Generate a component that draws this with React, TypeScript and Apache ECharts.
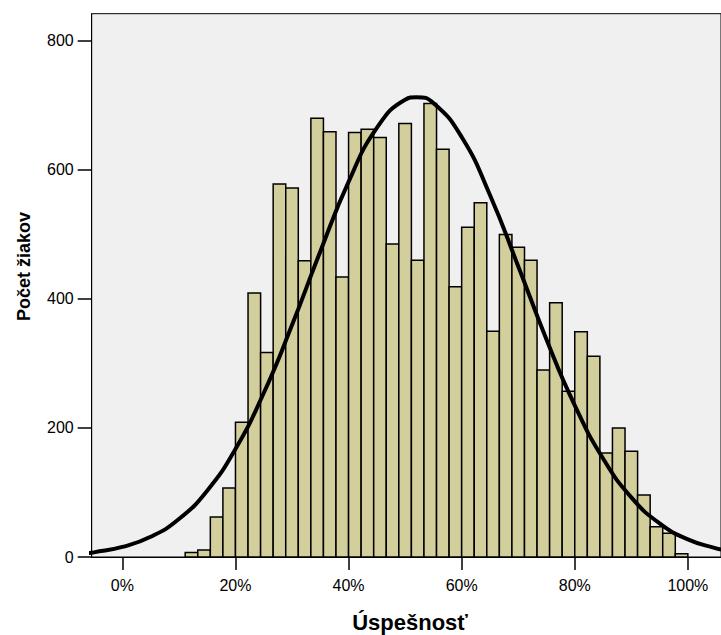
import React, { useEffect, useRef } from "react";
import * as echarts from "echarts";

// Histogram: 45 score bins per 100 %, bars from bin 5 to bin 44
const BINS_PER_100 = 45;
const FIRST_BIN = 5;
const COUNTS = [
  7, 11, 62, 107, 209, 409, 317, 578, 572, 459,
  680, 659, 434, 658, 663, 650, 485, 672, 460, 703,
  632, 419, 511, 549, 350, 500, 480, 460, 290, 394,
  257, 349, 311, 161, 200, 164, 96, 47, 37, 5,
];

// Normal curve (x in %, y = count)
const CURVE_X = [-6, -5, 0, 5, 10, 15, 20, 25, 30, 35, 40, 45, 50, 52, 55, 60, 65, 70, 75, 80, 85, 90, 95, 100, 105, 106];
const CURVE_Y = [6.1, 7.2, 15.6, 31.3, 58.8, 102.8, 167.4, 254.1, 359.4, 473.5, 581.3, 665.0, 708.7, 712.7, 703.7, 651.0, 561.1, 450.6, 337.2, 235.1, 152.7, 92.4, 52.1, 27.4, 13.4, 11.5];

const X_TICKS = [0, 20, 40, 60, 80, 100];
const Y_TICKS = [0, 200, 400, 600, 800];

const X_TITLE = "Úspešnosť";
const Y_TITLE = "Počet žiakov";

const FONT = '"Liberation Sans", Arial, Helvetica, sans-serif';

export default function App() {
  const ref = useRef<HTMLDivElement>(null);

  useEffect(() => {
    if (!ref.current) return;
    const chart = echarts.init(ref.current, undefined, { renderer: "svg" });

    const barData = COUNTS.map((c, i) => [
      ((FIRST_BIN + i) * 100) / BINS_PER_100,
      ((FIRST_BIN + i + 1) * 100) / BINS_PER_100,
      c,
    ]);
    const curveData = CURVE_X.map((x, i) => [x, CURVE_Y[i]]);

    const gridLeft = 91.7;
    const gridWidth = 636;
    const pxPerPct = 5.715;
    const xMin = (gridLeft - 122.7) / pxPerPct;
    const xMax = xMin + gridWidth / pxPerPct;

    chart.setOption({
      animation: false,
      backgroundColor: "#ffffff",
      textStyle: { fontFamily: FONT },
      grid: {
        left: gridLeft,
        top: 13.7,
        width: gridWidth,
        height: 557 - 13.7,
        show: true,
        backgroundColor: "#f0f0f0",
        borderColor: "#000000",
        borderWidth: 1,
        containLabel: false,
      },
      xAxis: {
        type: "value",
        min: xMin,
        max: xMax,
        splitLine: { show: false },
        axisLine: { show: true, onZero: false, lineStyle: { color: "#000", width: 1 } },
        axisTick: {
          show: true,
          length: 13,
          customValues: X_TICKS,
          lineStyle: { color: "#000", width: 1.5 },
        },
        axisLabel: {
          customValues: X_TICKS,
          formatter: (v: number) => `${Math.round(v)}%`,
          color: "#000",
          fontSize: 16,
          fontFamily: FONT,
          margin: 20,
        },
      },
      yAxis: {
        type: "value",
        min: 0,
        max: 842,
        splitLine: { show: false },
        axisLine: { show: true, onZero: false, lineStyle: { color: "#000", width: 1 } },
        axisTick: {
          show: true,
          length: 14,
          customValues: Y_TICKS,
          lineStyle: { color: "#000", width: 1.5 },
        },
        axisLabel: {
          customValues: Y_TICKS,
          color: "#000",
          fontSize: 16,
          fontFamily: FONT,
          margin: 18,
        },
      },
      graphic: [
        {
          type: "text",
          x: 410,
          y: 622,
          style: {
            text: X_TITLE,
            fontSize: 22,
            fontWeight: "bold",
            fontFamily: FONT,
            fill: "#000",
            align: "center",
            verticalAlign: "middle",
          },
        },
        {
          type: "text",
          x: 24,
          y: 266.5,
          rotation: Math.PI / 2,
          style: {
            text: Y_TITLE,
            fontSize: 18,
            fontWeight: "bold",
            fontFamily: FONT,
            fill: "#000",
            align: "center",
            verticalAlign: "middle",
          },
        },
      ],
      series: [
        {
          type: "custom",
          data: barData,
          encode: { x: [0, 1], y: 2 },
          clip: true,
          z: 2,
          renderItem: (params: any, api: any) => {
            const x0 = api.value(0);
            const x1 = api.value(1);
            const c = api.value(2);
            const p0 = api.coord([x0, c]);
            const p1 = api.coord([x1, 0]);
            return {
              type: "rect",
              shape: {
                x: p0[0],
                y: p0[1],
                width: p1[0] - p0[0],
                height: p1[1] - p0[1],
              },
              style: { fill: "#d3cf9c", stroke: "#000000", lineWidth: 1.5 },
            };
          },
        },
        {
          type: "line",
          data: curveData,
          smooth: true,
          symbol: "none",
          clip: true,
          z: 3,
          lineStyle: { color: "#000000", width: 4 },
        },
      ],
    });

    return () => chart.dispose();
  }, []);

  return (
    <div
      ref={ref}
      style={{ position: "absolute", left: 0, top: 0, width: 721, height: 635 }}
    />
  );
}
